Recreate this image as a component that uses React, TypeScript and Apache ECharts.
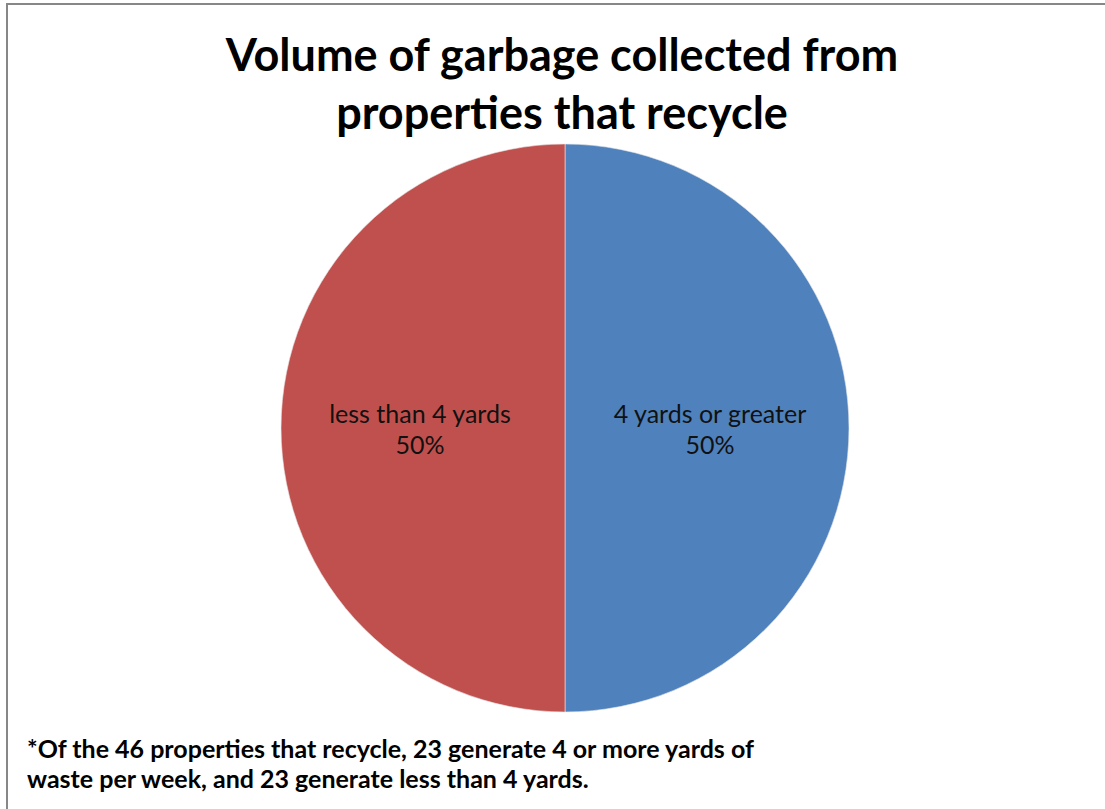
import React, { useEffect, useRef } from "react";
import * as echarts from "echarts";

const categories = ["4 yards or greater", "less than 4 yards"];
const values = [23, 23];
const colors = ["#4F81BD", "#C0504D"];
const titleText = "Volume of garbage collected from\nproperties that recycle";
const footnoteLines = [
  "*Of the 46 properties that recycle, 23 generate 4 or more yards of",
  "waste per week, and 23 generate less than 4 yards.",
];

export default function App() {
  const ref = useRef<HTMLDivElement>(null);
  useEffect(() => {
    if (!ref.current) return;
    const chart = echarts.init(ref.current, null, { renderer: "svg" });
    chart.setOption({
      animation: false,
      backgroundColor: "#ffffff",
      graphic: [
        {
          type: "rect",
          shape: { x: 7, y: 4, width: 1300, height: 1000 },
          style: { fill: "none", stroke: "#878787", lineWidth: 2 },
          silent: true,
        },
        {
          type: "text",
          x: 562,
          y: 25,
          style: {
            text: titleText,
            align: "center",
            verticalAlign: "top",
            fontFamily: "Lato",
            fontWeight: "bold",
            fontSize: 45,
            lineHeight: 58,
            fill: "#000",
          },
        },
        {
          type: "text",
          left: 27,
          top: 733,
          style: {
            text: footnoteLines.join("\n"),
            fontFamily: "Lato",
            fontWeight: "bold",
            fontSize: 25,
            lineHeight: 30,
            fill: "#000",
          },
        },
      ],
      series: [
        {
          type: "pie",
          center: [565, 428],
          radius: 284,
          startAngle: 90,
          clockwise: true,
          itemStyle: { borderColor: "#e8e8e8", borderWidth: 0.6 },
          label: {
            position: "inner",
            formatter: "{b}\n{d}%",
            fontFamily: "Lato",
            fontSize: 25,
            lineHeight: 31,
            color: "#111",
          },
          labelLine: { show: false },
          data: categories.map((c, i) => ({
            name: c,
            value: values[i],
            itemStyle: { color: colors[i] },
          })),
        },
      ],
    });
    return () => chart.dispose();
  }, []);
  return (
    <div
      ref={ref}
      style={{ position: "fixed", left: 0, top: 0, width: 1105, height: 809 }}
    />
  );
}
